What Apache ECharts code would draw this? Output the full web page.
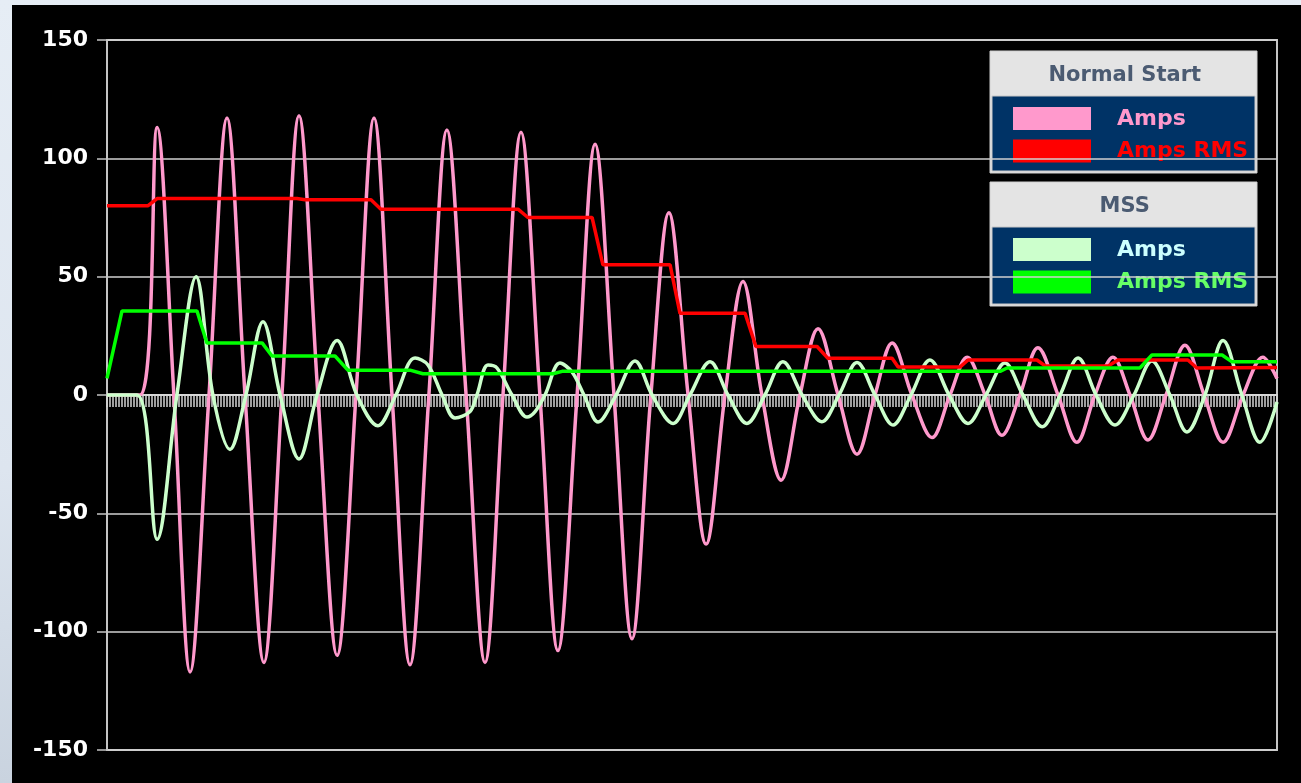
<!DOCTYPE html>
<html>
<head>
<meta charset="utf-8">
<script src="https://cdn.jsdelivr.net/npm/echarts@6/dist/echarts.min.js"></script>
<style>
    html, body {
        margin: 0;
        padding: 0;
        width: 1301px;
        height: 783px;
        overflow: hidden;
        background: linear-gradient(180deg, #e6edf5 0%, #dde5ef 60%, #c9d3df 100%);
    }
    #chart {
        position: absolute;
        left: 12px;
        top: 5px;
        width: 1289px;
        height: 778px;
        background: #000;
    }
</style>
</head>
<body>
<div id="chart"></div>
<script>
    // x = sample index (0..390), y = amps
    const nsAmps = [
        [0, 0], [11, 0], [16.7, 113], [22.3, 0], [27.7, -117], [34, 0], [40, 117], [46, 0],
        [52.3, -113], [58.3, 0], [64, 118], [70.3, 0], [76.7, -110], [83, 0], [89, 117], [95, 0],
        [101, -114], [107.3, 0], [113.3, 112], [119.7, 0], [126, -113], [132, 0], [138, 111], [144.3, 0],
        [150.3, -108], [156.7, 0], [162.7, 106], [169, 0], [175, -103], [181.3, 0], [187.3, 77], [193.7, 0],
        [199.7, -63], [206, 0], [212, 48], [218.3, 0], [224.7, -36], [231, 0], [237, 28], [243.7, 0],
        [250, -25], [256, 0], [261.7, 22], [268.3, 0], [275, -18], [281, 0], [286.7, 16], [292.7, 0],
        [298.3, -17], [304.3, 0], [310.3, 20], [317, 0], [323.3, -20], [329.3, 0], [335.3, 16], [341, 0],
        [347, -19], [353, 0], [359.3, 21], [365.7, 0], [372, -20], [378.7, 0], [385.3, 16], [390, 7]
    ]
    const nsRms = [
        [0, 80], [13.7, 80], [16.7, 83], [63.3, 83], [66, 82.5], [88, 82.5], [91.3, 78.5], [137, 78.5],
        [140.3, 75], [161.7, 75], [165.3, 55], [187.7, 55], [191, 34.5], [212.7, 34.5], [216.3, 20.5],
        [236.7, 20.5], [240.3, 15.5], [261.7, 15.5], [263.7, 11.8], [284.3, 11.8], [287, 14.8], [310, 14.8],
        [312.7, 12.3], [333.7, 12.3], [337, 14.8], [360.3, 14.8], [363.3, 11.4], [390, 11.6]
    ]
    const mssAmps = [
        [0, 0], [10, 0], [16.7, -61], [23.3, 0], [29.7, 50], [35.3, 0], [41, -23], [46.3, 0],
        [52, 31], [57.7, 0], [64, -27], [70, 0], [76.7, 23], [83.3, 0], [90.3, -13], [96.3, 0],
        [102.7, 15.6], [107, 12.7], [111.7, 0], [116, -9.7], [121, -7], [123.3, 0], [127, 12.7], [130, 11.4],
        [135, 0], [140, -9.3], [142.7, -7], [146, 0], [151, 13.5], [155, 9.7], [159, 0], [163.7, -11.4],
        [169.7, 0], [176, 14.4], [181.7, 0], [188.7, -12], [194.3, 0], [201, 14], [207, 0], [213.3, -12],
        [219.3, 0], [225.3, 14], [231.7, 0], [238.3, -11.3], [244, 0], [250, 13.7], [256, 0], [262, -12.7],
        [268, 0], [274.3, 14.8], [280.7, 0], [287, -12], [293, 0], [299.3, 13.5], [305.3, 0], [311.7, -13.4],
        [317.7, 0], [323.7, 15.6], [329.7, 0], [336, -12.7], [342.3, 0], [348.3, 14.4], [354.3, 0], [360, -15.6],
        [366, 0], [372, 23], [378.3, 0], [384.3, -20], [390, -3]
    ]
    const mssRms = [
        [0, 7], [5, 35.5], [30, 35.5], [33.3, 22], [51.7, 22], [55, 16.5], [76, 16.5], [80.3, 10.5],
        [101, 10.5], [105.3, 9], [148.7, 9], [151.7, 10], [297.7, 10], [300, 11.4], [344.3, 11.4],
        [348.3, 16.9], [371.7, 16.9], [375, 14], [390, 14]
    ]
    const yMin = -150, yMax = 150, yStep = 50
    const sampleCount = 390

    const font = 'DejaVu Sans'

    // legend boxes are drawn by hand, the original has two titled panels
    function legendBox(top, height, title, items) {
        const navyTop = top + 45
        const els = [
            { type: 'rect', shape: { x: 978, y: top, width: 267, height: height },
              style: { fill: '#e4e4e4', stroke: '#cfcfcf', lineWidth: 1 } },
            { type: 'rect', shape: { x: 980, y: navyTop, width: 263, height: height - 47 },
              style: { fill: '#003366', stroke: '#c8c8c8', lineWidth: 1 } },
            { type: 'text', x: 1112.7, y: top + 25,
              style: { text: title, fill: '#4b5b72', font: 'bold 21px ' + font, align: 'center', verticalAlign: 'middle' } }
        ]
        items.forEach((it, i) => {
            const y = navyTop + 11 + i * 32.5
            els.push({ type: 'rect', shape: { x: 1001, y: y, width: 78, height: 23 }, style: { fill: it.swatch } })
            els.push({ type: 'text', x: 1105, y: y + 12,
                style: { text: it.name, fill: it.text, font: 'bold 22px ' + font, verticalAlign: 'middle' } })
        })
        return els
    }

    const chart = echarts.init(document.getElementById('chart'))
    const options = {
        backgroundColor: '#000',
        animation: false,
        grid: {
            left: 95,
            top: 35,
            right: 24,
            bottom: 33,
            show: true,
            borderColor: '#c4c4c4',
            borderWidth: 2
        },
        xAxis: {
            type: 'value',
            min: 0,
            max: sampleCount,
            interval: 1,
            axisLabel: { show: false },
            splitLine: { show: false },
            axisLine: { onZero: true, lineStyle: { color: '#d8d8d8', width: 2 } },
            axisTick: { show: true, length: 12, lineStyle: { color: '#d4d4d4', width: 1.5 } }
        },
        yAxis: {
            type: 'value',
            min: yMin,
            max: yMax,
            interval: yStep,
            axisLine: { show: true, lineStyle: { color: '#c4c4c4', width: 2 } },
            axisTick: { show: true, length: 10, lineStyle: { color: '#c4c4c4', width: 1.5 } },
            axisLabel: {
                color: '#fff',
                fontFamily: font,
                fontWeight: 'bold',
                fontSize: 22,
                margin: 19
            },
            splitLine: { show: true, lineStyle: { color: '#d0d0d0', width: 1.5 } }
        },
        series: [
            {
                name: 'Normal Start Amps', type: 'line', data: nsAmps, symbol: 'none', smooth: 0.35,
                lineStyle: { color: '#ff99cc', width: 3.5 }
            },
            {
                name: 'MSS Amps', type: 'line', data: mssAmps, symbol: 'none', smooth: 0.35,
                lineStyle: { color: '#ccffcc', width: 3.5 }
            },
            {
                name: 'Normal Start Amps RMS', type: 'line', data: nsRms, symbol: 'none',
                lineStyle: { color: '#ff0000', width: 3.5 }
            },
            {
                name: 'MSS Amps RMS', type: 'line', data: mssRms, symbol: 'none',
                lineStyle: { color: '#00ff00', width: 3.5 }
            }
        ],
        graphic: [].concat(
            legendBox(46, 122, 'Normal Start', [
                { name: 'Amps', swatch: '#ff99cc', text: '#ff99cc' },
                { name: 'Amps RMS', swatch: '#ff0000', text: '#ff0000' }
            ]),
            legendBox(177, 124, 'MSS', [
                { name: 'Amps', swatch: '#ccffcc', text: '#ccffff' },
                { name: 'Amps RMS', swatch: '#00ff00', text: '#66ff66' }
            ])
        )
    }
    chart.setOption(options)
    window.addEventListener('resize', chart.resize)
</script>
</body>
</html>
